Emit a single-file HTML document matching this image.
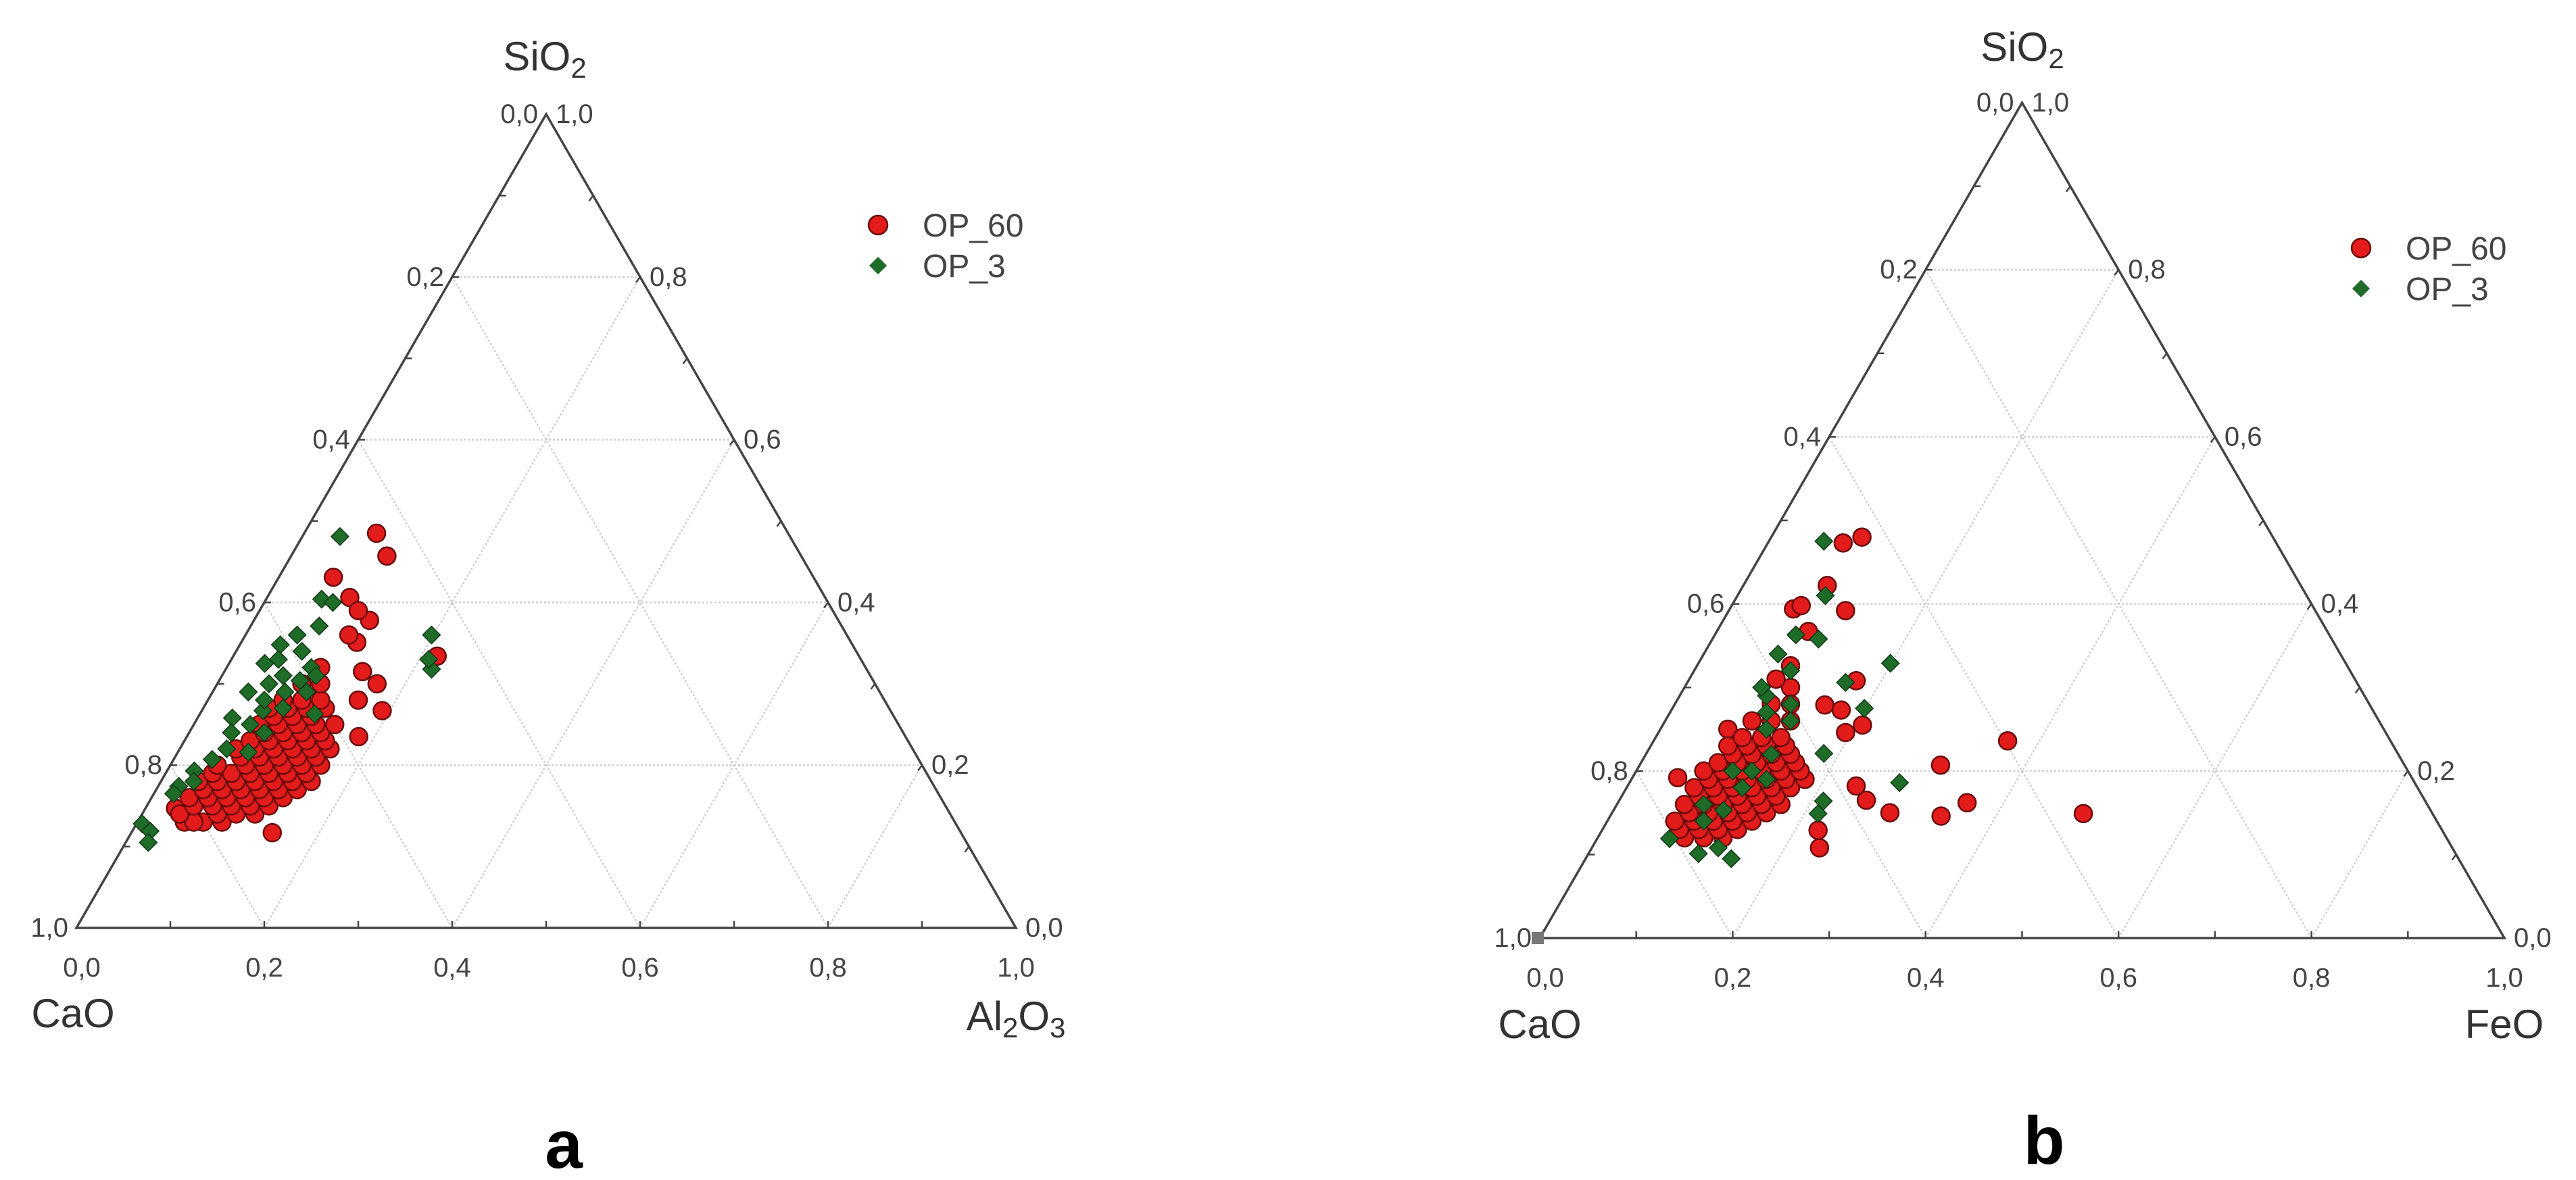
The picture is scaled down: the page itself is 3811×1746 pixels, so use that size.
<!DOCTYPE html>
<html><head><meta charset="utf-8"><style>
html,body{margin:0;padding:0;background:#fff;}
svg{display:block;}
text{font-family:"Liberation Sans",sans-serif;}
</style></head><body>
<svg id="fig" width="3811" height="1746" viewBox="0 0 3811 1746" xmlns="http://www.w3.org/2000/svg">
<rect x="0" y="0" width="3811" height="1746" fill="#fff"/>
<g id="chartA"></g>
<g id="chartB"></g>
</svg>
<script>
// ---- data (ternary fractions: [third-component, SiO2]) ----
const tickValues = [0, 0.2, 0.4, 0.6, 0.8, 1.0];
const tickLabels = ["0,0", "0,2", "0,4", "0,6", "0,8", "1,0"];
const leftEdgeLabels = ["1,0", "0,8", "0,6", "0,4", "0,2", "0,0"];
const seriesNames = ["OP_60", "OP_3"];

const aRed = [[0.077,0.485],[0.102,0.457],[0.058,0.431],[0.088,0.406],[0.123,0.378],[0.123,0.351],[0.217,0.334],[0.147,0.315],[0.192,0.267],[0.183,0.235],[0.150,0.117],[0.032,0.147],[0.105,0.39],[0.11,0.36],[0.17,0.30],[0.16,0.28],
[0.05,0.13],[0.07,0.13],[0.09,0.13],[0.06,0.13],
[0.04,0.14],[0.08,0.14],[0.10,0.14],[0.12,0.14],
[0.05,0.15],[0.07,0.15],[0.09,0.15],[0.11,0.15],[0.13,0.15],
[0.04,0.16],[0.06,0.16],[0.08,0.16],[0.10,0.16],[0.12,0.16],[0.14,0.16],
[0.05,0.17],[0.07,0.17],[0.09,0.17],[0.11,0.17],[0.13,0.17],[0.15,0.17],
[0.04,0.18],[0.06,0.18],[0.08,0.18],[0.10,0.18],[0.12,0.18],[0.14,0.18],[0.16,0.18],
[0.05,0.19],[0.07,0.19],[0.09,0.19],[0.11,0.19],[0.13,0.19],[0.15,0.19],
[0.05,0.20],[0.08,0.20],[0.10,0.20],[0.12,0.20],[0.14,0.20],[0.16,0.20],
[0.07,0.21],[0.09,0.21],[0.11,0.21],[0.13,0.21],[0.15,0.21],
[0.06,0.22],[0.08,0.22],[0.10,0.22],[0.12,0.22],[0.14,0.22],[0.16,0.22],
[0.07,0.23],[0.09,0.23],[0.11,0.23],[0.13,0.23],[0.15,0.23],
[0.08,0.24],[0.10,0.24],[0.12,0.24],[0.14,0.24],
[0.07,0.25],[0.09,0.25],[0.11,0.25],[0.13,0.25],[0.15,0.25],
[0.08,0.26],[0.10,0.26],[0.12,0.26],
[0.07,0.27],[0.09,0.27],[0.11,0.27],[0.13,0.27],
[0.08,0.28],[0.10,0.28],[0.12,0.28],
[0.09,0.30],[0.11,0.30],[0.10,0.32]];

const aGreen = [[0.040,0.481],[0.059,0.404],[0.073,0.400],[0.073,0.371],[0.198,0.360],[0.219,0.318],[0.210,0.33],[0.043,0.348],[0.038,0.325],[0.050,0.33],[0.038,0.290],[0.037,0.258],[0.041,0.207],[0.029,0.193],[0.022,0.174],[0.021,0.165],[0.035,0.18],[0.006,0.128],[0.019,0.119],[0.024,0.105],[0.086,0.304],[0.122,0.263],[0.077,0.290],[0.065,0.267],[0.075,0.216],[0.055,0.30],[0.065,0.31],[0.09,0.32],[0.10,0.29],[0.06,0.25],[0.08,0.24],[0.05,0.22],[0.10,0.31],[0.07,0.34],[0.06,0.28],[0.045,0.24],[0.055,0.36],[0.085,0.27]];

const bRed = [[0.094,0.480],[0.078,0.473],[0.087,0.422],[0.066,0.394],[0.072,0.398],[0.121,0.392],[0.095,0.367],[0.097,0.326],[0.174,0.308],[0.156,0.279],[0.176,0.273],[0.207,0.255],[0.194,0.246],[0.367,0.236],[0.312,0.207],[0.362,0.162],[0.343,0.146],[0.288,0.150],[0.256,0.165],[0.237,0.182],[0.489,0.149],[0.236,0.108],[0.224,0.129],[0.047,0.192],[0.088,0.131],[0.070,0.250],[0.11,0.30],[0.09,0.31],
[0.09,0.12],[0.11,0.12],[0.13,0.12],
[0.08,0.13],[0.10,0.13],[0.12,0.13],[0.14,0.13],
[0.07,0.14],[0.09,0.14],[0.11,0.14],[0.13,0.14],[0.15,0.14],
[0.08,0.15],[0.10,0.15],[0.12,0.15],[0.14,0.15],[0.16,0.15],
[0.07,0.16],[0.09,0.16],[0.11,0.16],[0.13,0.16],[0.15,0.16],[0.17,0.16],
[0.08,0.17],[0.10,0.17],[0.12,0.17],[0.14,0.17],[0.16,0.17],
[0.07,0.18],[0.09,0.18],[0.11,0.18],[0.13,0.18],[0.15,0.18],[0.17,0.18],
[0.08,0.19],[0.10,0.19],[0.12,0.19],[0.14,0.19],[0.16,0.19],[0.18,0.19],
[0.07,0.20],[0.09,0.20],[0.11,0.20],[0.13,0.20],[0.15,0.20],[0.17,0.20],
[0.08,0.21],[0.10,0.21],[0.12,0.21],[0.14,0.21],[0.16,0.21],
[0.09,0.22],[0.11,0.22],[0.13,0.22],[0.15,0.22],
[0.08,0.23],[0.10,0.23],[0.12,0.23],[0.14,0.23],
[0.09,0.24],[0.11,0.24],[0.13,0.24],
[0.09,0.26],[0.11,0.26],[0.13,0.26],
[0.10,0.28],[0.12,0.28]];

const bGreen = [[0.057,0.475],[0.091,0.41],[0.110,0.358],[0.084,0.363],[0.199,0.329],[0.164,0.306],[0.199,0.275],[0.077,0.340],[0.184,0.221],[0.280,0.186],[0.212,0.164],[0.214,0.149],[0.075,0.119],[0.114,0.101],[0.131,0.108],[0.151,0.095],[0.114,0.153],[0.09,0.29],[0.10,0.27],[0.12,0.28],[0.11,0.25],[0.13,0.22],[0.10,0.20],[0.12,0.18],[0.09,0.16],[0.14,0.19],[0.13,0.26],[0.1,0.32],[0.08,0.3],[0.12,0.2],[0.1,0.14]];

const NS = "http://www.w3.org/2000/svg";
function mk(tag, attrs, parent){
  const e = document.createElementNS(NS, tag);
  for (const k in attrs) e.setAttribute(k, attrs[k]);
  parent.appendChild(e);
  return e;
}

function drawChart(g, cfg, red, green){
  const P = (a, s) => [cfg.x0 + (a + s/2) * cfg.side, cfg.y0 - s * cfg.h];
  const grid = mk('g', {}, g);
  
  
  [0.2,0.4,0.6,0.8].forEach(v => {
    const segs = [[P(0,v),P(1-v,v)],[P(v,0),P(v,1-v)],[P(1-v,0),P(0,1-v)]];
    segs.forEach(sg => {
      const l = mk('line', {x1:sg[0][0],y1:sg[0][1],x2:sg[1][0],y2:sg[1][1],stroke:'#cfcfcf','stroke-width':2.5,'stroke-dasharray':'3 3'}, grid);
      
      
    });
  });
  const ticks = mk('g', {stroke:'#444','stroke-width':2.5}, g);
  
  
  for (let i = 1; i < 10; i++){
    const v = i/10;
    let p = P(v,0);
    mk('line',{x1:p[0],y1:p[1],x2:p[0],y2:p[1]-10},ticks);
    p = P(0,v); mk('line',{x1:p[0],y1:p[1],x2:p[0]+10,y2:p[1]},ticks);
    p = P(1-v,v); mk('line',{x1:p[0],y1:p[1],x2:p[0]-6,y2:p[1]+8},ticks);
  }
  const A = P(0,0), B = P(1,0), C = P(0,1);
  const tri = mk('polygon', {points:`${A[0]},${A[1]} ${B[0]},${B[1]} ${C[0]},${C[1]}`, fill:'none', stroke:'#444', 'stroke-width':3.5}, g);
  
  
  if (cfg.corner){
    const sq = mk('rect',{x:A[0]-12,y:A[1]-9,width:18,height:18,fill:'#777'},g);
    
    
  }
  const lab = mk('g', {'font-size':40, fill:'#444'}, g);
  
  
  tickValues.forEach((v, i) => {
    let p = P(0, v);
    let t = mk('text', {x:p[0]-12, y:p[1]+13, 'text-anchor':'end'}, lab);
    t.textContent = leftEdgeLabels[i];
    
    
    p = P(1 - v, v);
    t = mk('text', {x:p[0]+14, y:p[1]+13, 'text-anchor':'start'}, lab);
    t.textContent = tickLabels[i];
    
    
    p = P(v, 0);
    t = mk('text', {x:p[0]+(v===0?8:0), y:p[1]+72, 'text-anchor':'middle'}, lab);
    t.textContent = tickLabels[i];
    
    
  });
  const rg = mk('g', {}, g);
  
  
  red.forEach(d => {
    const p = P(d[0], d[1]);
    const c = mk('circle', {cx:p[0], cy:p[1], r:13, fill:'#e21b1b', stroke:'#6a0a0a', 'stroke-width':2.5}, rg);
    
    
  });
  const gg = mk('g', {}, g);
  
  
  green.forEach(d => {
    const p = P(d[0], d[1]), r = 13;
    const c = mk('polygon', {points:`${p[0]},${p[1]-r} ${p[0]+r},${p[1]} ${p[0]},${p[1]+r} ${p[0]-r},${p[1]}`, fill:'#1f6b28', stroke:'#0f3a14', 'stroke-width':1.5}, gg);
    
    
  });
  const lg = mk('g', {}, g);
  
  
  const c1 = mk('circle', {cx:cfg.lx, cy:cfg.ly, r:14, fill:'#e21b1b', stroke:'#6a0a0a','stroke-width':2.5}, lg);
  
  
  const r = 13;
  const d1 = mk('polygon', {points:`${cfg.lx},${cfg.ly+60-r} ${cfg.lx+r},${cfg.ly+60} ${cfg.lx},${cfg.ly+60+r} ${cfg.lx-r},${cfg.ly+60}`, fill:'#1f6b28'}, lg);
  
  
  seriesNames.forEach((n, i) => {
    const t = mk('text', {x:cfg.lx+66, y:cfg.ly+17+i*60, 'font-size':48, fill:'#444'}, lg);
    t.textContent = n;
    
    
  });
}

drawChart(document.getElementById('chartA'), {x0:113, y0:1373, side:1390, h:1204, lx:1299, ly:333}, aRed, aGreen);
drawChart(document.getElementById('chartB'), {x0:2278, y0:1388, side:1427, h:1236, lx:3493, ly:367, corner:true}, bRed, bGreen);
</script>
<svg style="position:absolute;left:0;top:0" width="3811" height="1746" viewBox="0 0 3811 1746" xmlns="http://www.w3.org/2000/svg">
  <g font-family="Liberation Sans, sans-serif" fill="#333" font-size="60">
    <text x="806" y="104" text-anchor="middle">SiO<tspan font-size="42" dy="11">2</tspan></text>
    <text x="108" y="1520" text-anchor="middle">CaO</text>
    <text x="1503" y="1524" text-anchor="middle">Al<tspan font-size="42" dy="11">2</tspan><tspan dy="-11">O</tspan><tspan font-size="42" dy="11">3</tspan></text>
    <text x="2992" y="90" text-anchor="middle">SiO<tspan font-size="42" dy="11">2</tspan></text>
    <text x="2278" y="1536" text-anchor="middle">CaO</text>
    <text x="3705" y="1536" text-anchor="middle">FeO</text>
  </g>
  <text x="834" y="1728" text-anchor="middle" font-family="Liberation Serif, serif" font-weight="bold" font-size="100" fill="#000">a</text>
  <text x="3024" y="1722" text-anchor="middle" font-family="Liberation Serif, serif" font-weight="bold" font-size="100" fill="#000">b</text>
</svg>
</body></html>
